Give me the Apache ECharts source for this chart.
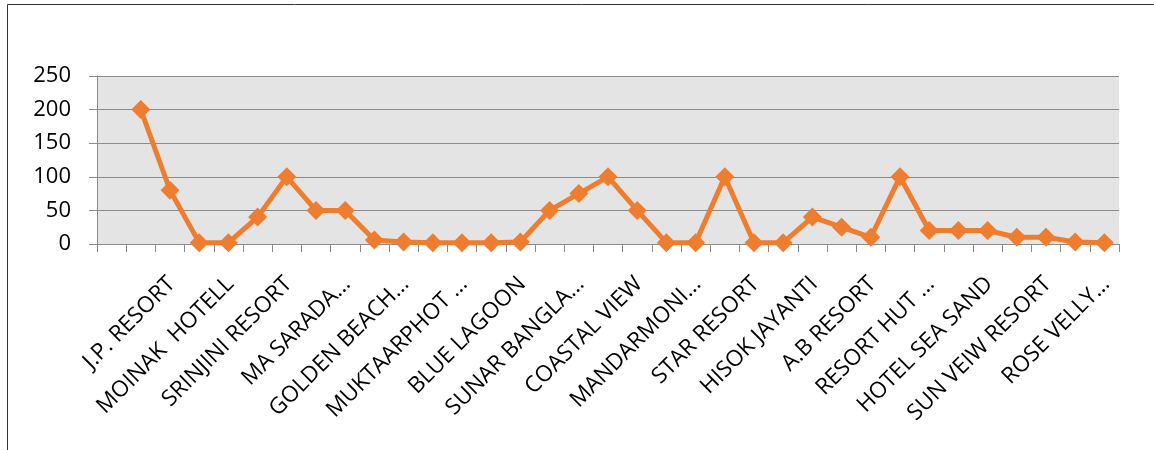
<!DOCTYPE html>
<html>
<head>
<meta charset="utf-8">
<script src="https://cdn.jsdelivr.net/npm/echarts@6/dist/echarts.min.js"></script>
<style>
html,body{margin:0;padding:0;background:#fff;}
#chart{width:1154px;height:450px;}
</style>
</head>
<body>
<div id="chart"></div>
<script>
// Category labels (only every other one is shown in the reference; unreadable ones left blank)
const categories = [
  '', '', 'J.P. RESORT', '', 'MOINAK  HOTELL', '', 'SRINJINI RESORT', '', 'MA SARADA…',
  '', 'GOLDEN BEACH…', '', 'MUKTAARPHOT …', '', 'BLUE LAGOON', '', 'SUNAR BANGLA…',
  '', 'COASTAL VIEW', '', 'MANDARMONI…', '', 'STAR RESORT', '', 'HISOK JAYANTI',
  '', 'A.B RESORT', '', 'RESORT HUT …', '', 'HOTEL SEA SAND', '', 'SUN VEIW RESORT',
  '', 'ROSE VELLY…'
];
const values = [
  null, 200, 80, 2, 2, 40, 100, 50, 50, 6,
  3, 2, 2, 2, 3, 50, 75, 100, 50, 2,
  2, 100, 2, 2, 40, 25, 10, 100, 20, 20,
  20, 10, 10, 3, 2
];
const yTicks = [0, 50, 100, 150, 200, 250];

const chart = echarts.init(document.getElementById('chart'), null, {renderer: 'canvas'});
chart.setOption({
  animation: false,
  backgroundColor: '#ffffff',
  graphic: [{
    type: 'rect',
    shape: {x: 7.5, y: 4.5, width: 1400, height: 800},
    style: {fill: 'none', stroke: '#333333', lineWidth: 1},
    silent: true
  }],
  grid: {
    left: 97, right: 35, top: 76, bottom: 206,
    show: true, backgroundColor: '#e4e4e4', borderWidth: 0
  },
  xAxis: {
    type: 'category',
    data: categories,
    boundaryGap: true,
    axisLine: {show: true, lineStyle: {color: '#8c8c8c', width: 1}},
    axisTick: {show: true, interval: 0, length: 8, lineStyle: {color: '#8c8c8c'}},
    axisLabel: {
      interval: 1, rotate: 45, fontSize: 22.5, margin: 22, verticalAlign: 'top',
      padding: [0, 9, 0, 0],
      fontFamily: 'Open Sans', color: '#000000'
    },
    splitLine: {show: false}
  },
  yAxis: {
    type: 'value',
    min: yTicks[0], max: yTicks[yTicks.length - 1], interval: 50,
    axisLine: {show: true, lineStyle: {color: '#8c8c8c', width: 1}},
    axisTick: {show: true, length: 8, lineStyle: {color: '#8c8c8c'}},
    axisLabel: {fontSize: 22, margin: 26, fontFamily: 'Open Sans', color: '#000000'},
    splitLine: {show: true, lineStyle: {color: '#8c8c8c', width: 1}}
  },
  series: [{
    type: 'line',
    data: values,
    connectNulls: false,
    symbol: 'diamond',
    symbolSize: 19,
    itemStyle: {color: '#ef7d2f'},
    lineStyle: {color: '#ef7d2f', width: 5},
    z: 5
  }]
});
</script>
</body>
</html>
